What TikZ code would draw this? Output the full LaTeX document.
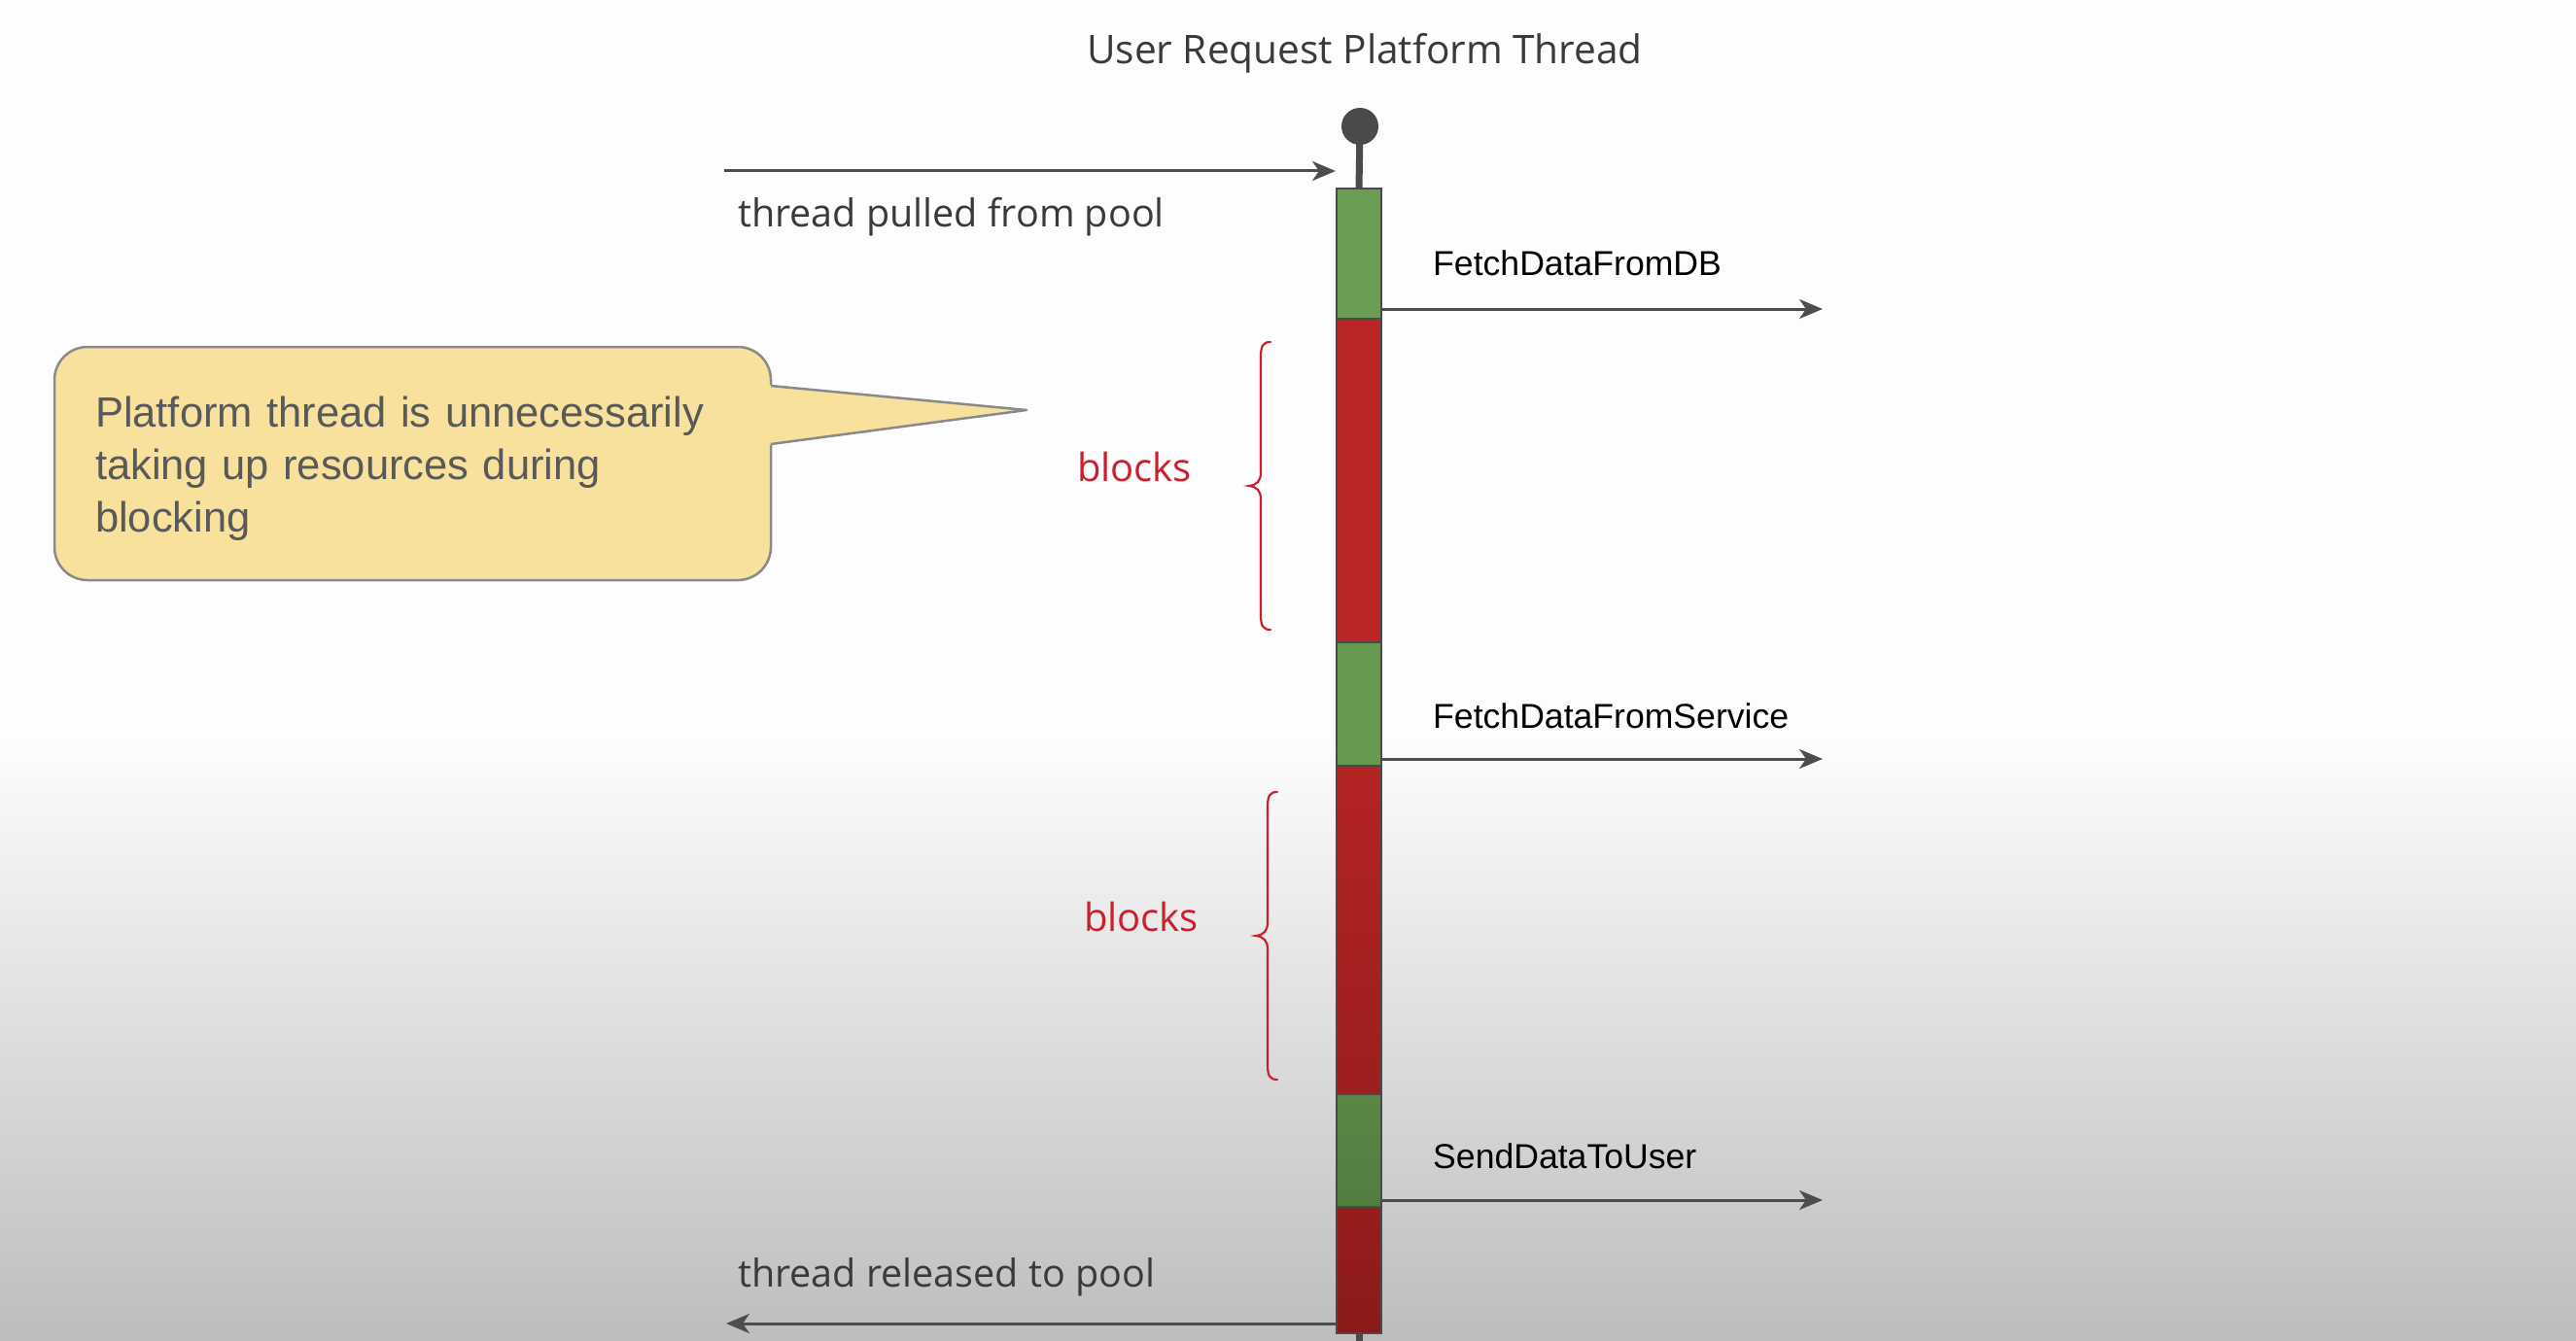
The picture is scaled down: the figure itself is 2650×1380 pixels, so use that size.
\documentclass[tikz,border=0pt]{standalone}
\usepackage{fontspec}
\setmainfont{Liberation Sans}
\newfontfamily\hand{Open Sans}
\usetikzlibrary{arrows.meta}
\definecolor{bgtop}{HTML}{FDFDFD}
\definecolor{bgbot}{HTML}{BDBDBD}
\definecolor{darkgray}{HTML}{4A4A4A}
\definecolor{arrowgray}{HTML}{4D4D4D}
\definecolor{barline}{HTML}{4A4A4A}
\definecolor{txtgray}{HTML}{3A3A3A}
\definecolor{notetxt}{HTML}{595959}
\definecolor{noteyellow}{HTML}{F8E19C}
\definecolor{noteline}{HTML}{8A8A8A}
\definecolor{blockred}{HTML}{CC1F2D}
\definecolor{gA}{HTML}{6A9C56}
\definecolor{gB}{HTML}{66984F}
\definecolor{gC}{HTML}{5A8646}
\definecolor{gD}{HTML}{547E40}
\definecolor{rA}{HTML}{BC2525}
\definecolor{rB}{HTML}{B52323}
\definecolor{rC}{HTML}{9C1F1F}
\definecolor{rD}{HTML}{981D1D}
\definecolor{rE}{HTML}{8A1A1A}
\begin{document}
\begin{tikzpicture}[x=1pt,y=-1pt,
  seg/.style={draw=barline, line width=2.5pt, minimum width=46pt, inner sep=0pt, outer sep=0pt},
  arr/.style={draw=arrowgray, line width=3pt, -{Stealth[length=24pt,width=20pt,inset=7pt]}},
  handtxt/.style={font=\hand\fontsize{39.5}{44}\selectfont, text=txtgray, inner sep=0pt, anchor=base west},
  calltxt/.style={font=\fontsize{35.6}{40}\selectfont, text=black, inner sep=0pt, anchor=base west},
  blocktxt/.style={font=\hand\fontsize{40}{44}\selectfont, text=blockred, inner sep=0pt, anchor=base},
  bracestyle/.style={draw=blockred, line width=2.2pt, line cap=round},
  notebox/.style={draw=noteline, line width=2.5pt, fill=noteyellow, rounded corners=34pt,
     minimum width=737pt, minimum height=240pt, inner xsep=42pt, inner ysep=0pt,
     text width=653pt, align=left, text=notetxt, font=\fontsize{43.5}{54}\selectfont}]
% background
\fill[bgtop] (0,0) rectangle (2650,760);
\shade[top color=bgtop, bottom color=bgbot] (0,760) rectangle (2650,1380);
\useasboundingbox (0,0) rectangle (2650,1380);

% title
\node[font=\hand\fontsize{40.6}{44}\selectfont, text=txtgray, inner sep=0pt, anchor=base] (title) at (1404,66) {User Request Platform Thread};

% lifeline head
\node[circle, fill=darkgray, minimum size=38pt, inner sep=0pt] (head) at (1399,130) {};

% bar segments
\node[seg, fill=gA, minimum height=134pt] (g1) at (1398,261) {};
\node[seg, fill=rA, minimum height=333pt] (r1) at (1398,494.5) {};
\node[seg, fill=gB, minimum height=127pt] (g2) at (1398,724.5) {};
\node[seg, top color=rB, bottom color=rC, minimum height=338pt] (r2) at (1398,957) {};
\node[seg, top color=gC, bottom color=gD, minimum height=116pt] (g3) at (1398,1184) {};
\node[seg, top color=rD, bottom color=rE, minimum height=130pt] (r3) at (1398,1307) {};
\coordinate (tail) at (1398,1380);
\draw[darkgray, line width=7pt] (head.center) -- (g1.north);
\draw[darkgray, line width=7pt] (r3.south) -- (tail);

% pull / release arrows
\coordinate (pullstart) at (745,176);
\coordinate (pullend) at (1374,176);
\draw[arr] (pullstart) -- (pullend);
\node[handtxt] (pulltxt) at (759,234) {thread pulled from pool};

\coordinate (relend) at (747,1362);
\draw[arr] (r3.west |- relend) -- (relend);
\node[handtxt] (reltxt) at (759,1324) {thread released to pool};

% call arrows
\coordinate (dbend) at (1875,318);
\draw[arr] (g1.east |- dbend) -- (dbend);
\node[calltxt] (dbtxt) at (1474,284) {FetchDataFromDB};

\coordinate (svcend) at (1875,781);
\draw[arr] (g2.east |- svcend) -- (svcend);
\node[calltxt] (svctxt) at (1474,749) {FetchDataFromService};

\coordinate (userend) at (1875,1235);
\draw[arr] (g3.east |- userend) -- (userend);
\node[calltxt] (usertxt) at (1474,1202) {SendDataToUser};

% braces
\draw[bracestyle] (1307,352) .. controls (1299,352) and (1297,356) .. (1297,368) -- (1297,486)
  .. controls (1297,495) and (1293,499) .. (1285,500) .. controls (1293,501) and (1297,505) .. (1297,514)
  -- (1297,632) .. controls (1297,644) and (1299,648) .. (1307,648);
\begin{scope}[shift={(7,463)}]
\draw[bracestyle] (1307,352) .. controls (1299,352) and (1297,356) .. (1297,368) -- (1297,486)
  .. controls (1297,495) and (1293,499) .. (1285,500) .. controls (1293,501) and (1297,505) .. (1297,514)
  -- (1297,632) .. controls (1297,644) and (1299,648) .. (1307,648);
\end{scope}
\node[blocktxt] (blk1) at (1167,495) {blocks};
\node[blocktxt] (blk2) at (1174,958) {blocks};

% callout
\node[notebox] (note) at (424.5,477) {\rule{0pt}{42pt}Platform thread is unnecessarily\\taking up resources during\\blocking};
\coordinate (tip) at (1056,422);
\coordinate (pa) at (793,397);
\coordinate (pb) at (793,457);
\fill[noteyellow] (790,396) -- (tip) -- (790,458) -- cycle;
\draw[noteline, line width=2.5pt, line join=round] (pa) -- (tip) -- (pb);
\end{tikzpicture}
\end{document}
